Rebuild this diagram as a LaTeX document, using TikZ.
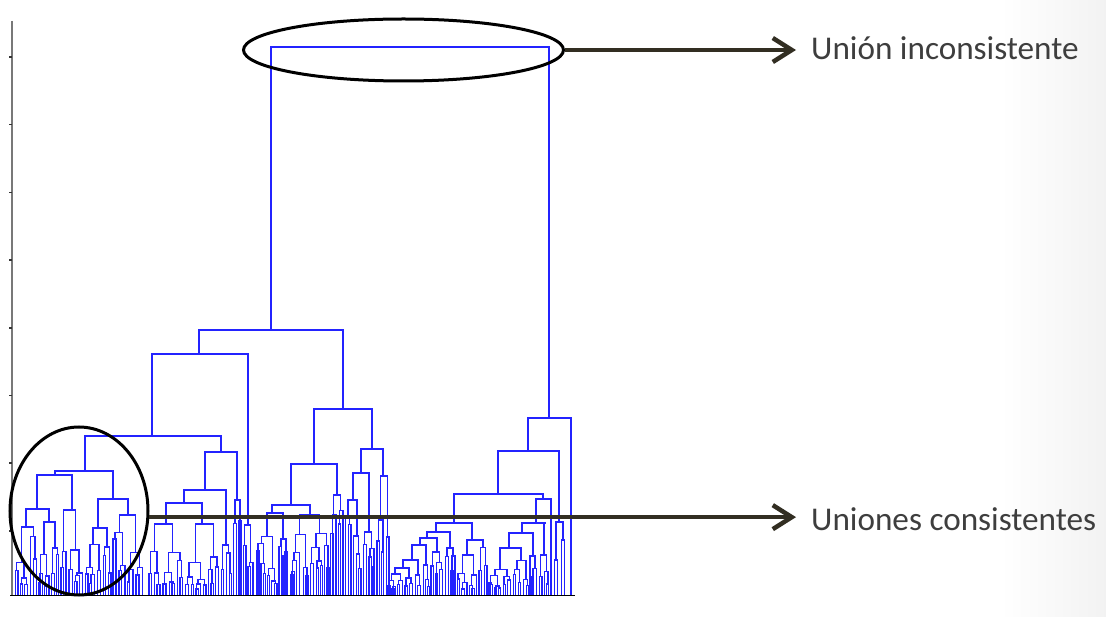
\documentclass[tikz,border=0pt]{standalone}
\usepackage{fontspec}
\setmainfont{Carlito}
\usetikzlibrary{arrows.meta,shapes.geometric}
\definecolor{dgblue}{RGB}{35,35,255}
\definecolor{arrowc}{RGB}{50,46,34}
\definecolor{labelc}{RGB}{62,62,62}
\definecolor{axisgray}{RGB}{120,120,120}

% one hand-placed join: link x, parent height, own height, left child x, right child x
\newcommand\jn[5]{%
  \draw[dg] (#1,#2) -- (#1,#3);
  \draw[dg] (#4,#3) -- (#5,#3);}

% a generated cluster over the leaves #1..#2, hanging from height #3, merging at #4
\newcommand\clusH[4]{%
  \begingroup
  \pgfmathsetmacro\cc{(#1+#2)/2}%
  \pgfmathsetmacro\ww{#2-#1}%
  \ifdim\ww pt<3.6pt
    \draw[dg] (\cc,#3) -- (\cc,595);%
  \else
    \pgfmathsetmacro\ss{#1+(0.3+0.4*rnd)*\ww}%
    \pgfmathsetmacro\la{(#1+\ss)/2}%
    \pgfmathsetmacro\lb{(\ss+#2)/2}%
    \draw[dg] (\cc,#3) -- (\cc,#4);%
    \draw[dg] (\la,#4) -- (\lb,#4);%
    \edef\next{\noexpand\clus{#1}{\ss}{#4}\noexpand\clus{\ss}{#2}{#4}}%
    \next
  \fi
  \endgroup}
% same, with a random merging height
\newcommand\clus[3]{%
  \begingroup
  \pgfmathsetmacro\hh{#3+(595-#3)*(0.1+0.45*rnd)}%
  \edef\next{\noexpand\clusH{#1}{#2}{#3}{\hh}}%
  \next
  \endgroup}

\tikzset{
  dg/.style={dgblue, line width=1.35pt, line cap=rect},
  ring/.style={ellipse, draw=black, line width=3pt, inner sep=0pt},
  arr/.style={arrowc, line width=4.5pt, -{Straight Barb[length=19pt,width=24pt]}},
  lbl/.style={inner sep=0pt, text=labelc, font=\fontsize{33.2}{40}\selectfont},
}

\begin{document}
\begin{tikzpicture}[x=1pt,y=-1pt]
\useasboundingbox (0,0) rectangle (1106,617);
\fill[white] (0,0) rectangle (1106,617);
\fill[left color=white, right color=black!5] (1000,0) rectangle (1106,617);
\pgfmathsetseed{12}

% axes
\draw[axisgray, line width=1.8pt] (12,21) -- (12,596);
\foreach \t in {57,124.7,192.4,260.1,327.8,395.5,463.2,530.9}
  \draw[black!80, line width=1.5pt] (9,\t) -- (12,\t);

% root
\draw[dg] (271,47) -- (549,47);

% left branch
\jn{271}{47}{330}{199}{343}
\jn{199}{330}{354}{152}{248}
\clusH{242}{254}{354}{525}
\jn{152}{354}{436}{85}{221}
\jn{85}{436}{471}{55}{113}
\jn{55}{471}{475}{37}{72}
\jn{37}{475}{509}{26}{49}
\clusH{14}{38}{509}{527}
\clusH{38}{60}{509}{522}
\clusH{60}{84}{475}{510}
\jn{113}{471}{499}{98}{128}
\clusH{84}{112}{499}{528}
\clusH{112}{144}{499}{515}
\jn{221}{436}{452}{205}{237}
\jn{205}{452}{490}{184}{226}
\jn{184}{490}{503}{166}{202}
\clusH{148}{184}{503}{524}
\clusH{184}{220}{503}{524}
\clusH{220}{232}{490}{545}
\clusH{232}{242}{452}{500}
\jn{343}{330}{409}{314}{372}
\jn{314}{409}{464}{291}{337}
\jn{291}{464}{505}{272}{310}
\clusH{256}{288}{505}{513}
\clusH{290}{330}{505}{515}
\clusH{330}{344}{464}{495}
\jn{372}{409}{449}{361}{383}
\jn{361}{449}{473}{353}{369}
\clusH{344}{362}{473}{500}
\clusH{362}{376}{473}{532}
\clusH{376}{390}{449}{476}

% right branch
\jn{549}{47}{418}{528}{571}
\draw[dg] (571,418) -- (571,595);
\jn{528}{418}{451}{498}{559}
\jn{498}{451}{494}{454}{543}
\jn{454}{494}{523}{436}{472}
\clusH{456}{488}{523}{540}
\jn{436}{523}{532}{427}{450}
\clusH{444}{456}{532}{548}
\jn{427}{532}{538}{420}{437}
\clusH{430}{444}{538}{552}
\jn{420}{538}{545}{412}{426}
\clusH{422}{430}{545}{565}
\jn{412}{545}{560}{403}{418}
\clusH{414}{422}{560}{575}
\jn{403}{560}{568}{395}{409}
\clusH{386}{404}{568}{574}
\clusH{404}{414}{568}{578}
\jn{543}{494}{499}{536}{551}
\draw[dg] (551,499) -- (551,595);
\jn{536}{499}{523}{522}{545}
\jn{522}{523}{533}{509}{533}
\clusH{488}{530}{533}{548}
\clusH{528}{538}{533}{556}
\clusH{538}{550}{523}{555}
\jn{559}{451}{522}{556}{563}
\clusH{553}{559}{522}{560}
\clusH{560}{566}{522}{540}

\draw[black, line width=1.5pt] (10,595.5) -- (575,595.5);

% rings and callouts
\node[ring, minimum width=320pt, minimum height=62pt] (ell1) at (403.5,50) {};
\node[ring, minimum width=138pt, minimum height=168pt] (ell2) at (79,511) {};
\coordinate (tip1) at (796,50);
\coordinate (tip2) at (796,518);
\draw[arr] (ell1.east) -- (ell1.east -| tip1);
\draw[arr] (ell2.355) -- (ell2.355 -| tip2);
\node[lbl, anchor=base west] (lab1) at (811,60) {Unión inconsistente};
\node[lbl, anchor=base west] (lab2) at (811,530) {Uniones consistentes};
\end{tikzpicture}
\end{document}
